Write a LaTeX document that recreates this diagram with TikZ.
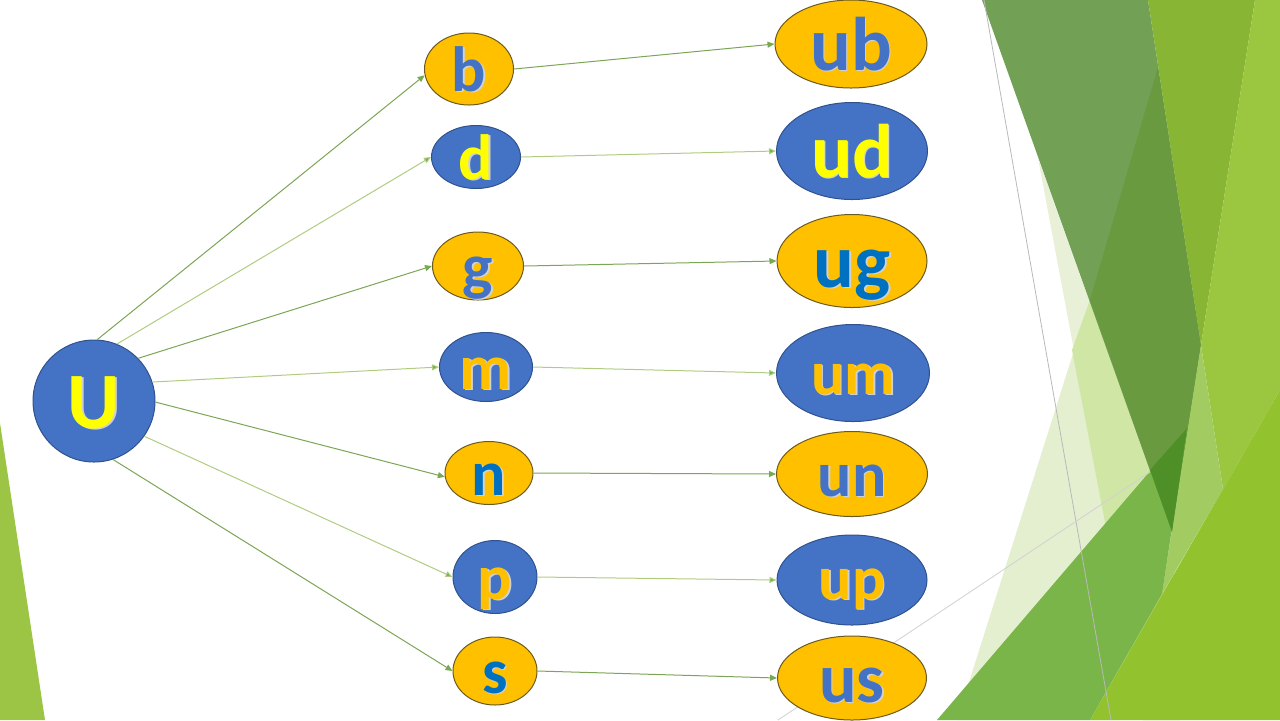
\documentclass[tikz,border=0pt]{standalone}
\usepackage{fontspec}
\setmainfont{Carlito}
\usetikzlibrary{shapes.geometric,arrows.meta}

\definecolor{ublue}{HTML}{4472C4}
\definecolor{deepblue}{HTML}{0070C0}
\definecolor{uorange}{HTML}{FFC000}
\definecolor{uyellow}{HTML}{FFFF00}
\definecolor{blueline}{HTML}{2F528F}
\definecolor{orangeline}{HTML}{6B5A1E}
\definecolor{arrowdark}{HTML}{7DA556}
\definecolor{arrowpale}{HTML}{B0CC80}
% facet greens
\definecolor{paleA}{HTML}{E3EFCF}
\definecolor{paleB}{HTML}{E8F1D7}
\definecolor{paleC}{HTML}{D0E6A5}
\definecolor{darkA}{HTML}{72A055}
\definecolor{darkB}{HTML}{6A9A40}
\definecolor{darkC}{HTML}{4E8F28}
\definecolor{midA}{HTML}{88B534}
\definecolor{midB}{HTML}{7AB54A}
\definecolor{brightA}{HTML}{9BC63F}
\definecolor{brightB}{HTML}{93C22F}
\definecolor{lightA}{HTML}{A2CB62}
\definecolor{edgegreen}{HTML}{9DC545}

% letter with a soft drop shadow
\newcommand\txtshadow[2]{\makebox[0pt][l]{\kern0.8pt\raisebox{-0.8pt}{\textcolor{black!18}{#2}}}\textcolor{#1}{#2}}

\begin{document}
\begin{tikzpicture}[x=0.5pt,y=-0.5pt,
  orangebox/.style={ellipse,fill=uorange,draw=orangeline,line width=0.5pt,inner sep=0pt},
  bluebox/.style={ellipse,fill=ublue,draw=blueline,line width=0.5pt,inner sep=0pt},
  letter/.style={font=\fontsize{32}{32}\selectfont\bfseries,text height=22pt,text depth=0pt},
  link/.style={draw=arrowdark,line width=0.5pt,-{Triangle[length=3.5pt,width=3pt,fill=arrowdark!80!green]}},
  linkpale/.style={link,draw=arrowpale}]
\useasboundingbox (0,0) rectangle (1280,720);

% Background facets - right side
\fill[paleA] (1090,300) -- (1172,532) -- (1120,720) -- (957,720) -- cycle;
\fill[paleB] (1038,158) -- (1172,532) -- (1180,720) -- (1143,720) -- cycle;
\fill[paleC] (1090,300) -- (1072,350) -- (1143,720) -- (1180,720) -- (1172,532) -- cycle;
\fill[darkA] (982,0) -- (1148,0) -- (1201,345) -- (1172,532) -- cycle;
\fill[darkB] (1158,67) -- (1201,345) -- (1172,532) -- (1090,300) -- cycle;
\fill[midA] (1148,0) -- (1255,0) -- (1201,345) -- cycle;
\fill[brightA] (1255,0) -- (1280,0) -- (1280,390) -- (1223,489) -- (1201,345) -- cycle;
\fill[lightA] (1201,345) -- (1223,489) -- (1162,594) -- cycle;
\fill[midB] (937,720) -- (1187,428) -- (1162,594) -- (1090,720) -- cycle;
\fill[darkC] (1150,470) -- (1187,428) -- (1172,532) -- cycle;
\fill[brightB] (1090,720) -- (1280,390) -- (1280,720) -- cycle;
\draw[gray!55,line width=0.4pt] (984,0) -- (1111,720);
\draw[gray!35,line width=0.4pt] (778,720) -- (1150,472);

% Background facet - left edge
\fill[edgegreen] (0,423) -- (45,720) -- (0,720) -- cycle;

% Start letter
\node[circle,fill=ublue,draw=blueline,line width=0.5pt,inner sep=0pt,minimum size=61pt,
  font=\fontsize{40}{40}\selectfont\bfseries,text height=27pt,text depth=0pt] (U) at (94,401) {\txtshadow{uyellow}{U}};

% Second letters
\node[orangebox,minimum width=44.5pt,minimum height=36pt,letter] (b) at (469,69) {\txtshadow{ublue}{b}};
\node[bluebox,minimum width=44.5pt,minimum height=31.5pt,letter] (d) at (476,157) {\txtshadow{uyellow}{d}};
\node[orangebox,minimum width=45.5pt,minimum height=34pt,letter] (g) at (478,266) {\txtshadow{ublue}{g}};
\node[bluebox,minimum width=46.5pt,minimum height=34.5pt,letter] (m) at (486,367) {\txtshadow{uorange}{m}};
\node[orangebox,minimum width=44pt,minimum height=31.5pt,letter] (n) at (489,473) {\txtshadow{deepblue}{n}};
\node[bluebox,minimum width=42pt,minimum height=36.5pt,letter] (p) at (495,577) {\txtshadow{uorange}{p}};
\node[orangebox,minimum width=42pt,minimum height=34pt,letter] (s) at (495,671) {\txtshadow{deepblue}{s}};

% Words
\node[orangebox,minimum width=76pt,minimum height=44pt,font=\fontsize{38}{38}\selectfont\bfseries,text height=26pt,text depth=0pt] (ub) at (851,44) {\txtshadow{ublue}{ub}};
\node[bluebox,minimum width=75.5pt,minimum height=48.5pt,font=\fontsize{38}{38}\selectfont\bfseries,text height=26pt,text depth=0pt] (ud) at (852,151) {\txtshadow{uyellow}{ud}};
\node[orangebox,minimum width=75pt,minimum height=46.5pt,font=\fontsize{38}{38}\selectfont\bfseries,text height=26pt,text depth=0pt] (ug) at (852,261) {\txtshadow{deepblue}{ug}};
\node[bluebox,minimum width=76.5pt,minimum height=48.5pt,font=\fontsize{31}{31}\selectfont\bfseries,text height=21pt,text depth=0pt] (um) at (853,373) {\txtshadow{uorange}{um}};
\node[orangebox,minimum width=75.5pt,minimum height=42.5pt,font=\fontsize{32}{32}\selectfont\bfseries,text height=22pt,text depth=0pt] (un) at (852,474) {\txtshadow{ublue}{un}};
\node[bluebox,minimum width=75pt,minimum height=45pt,font=\fontsize{31}{31}\selectfont\bfseries,text height=19pt,text depth=0pt] (up) at (852,580) {\txtshadow{uorange}{up}};
\node[orangebox,minimum width=74.5pt,minimum height=42pt,font=\fontsize{35}{35}\selectfont\bfseries,text height=24pt,text depth=0pt] (us) at (852,678) {\txtshadow{ublue}{us}};

% U to second letters
\draw[link] (U.87) -- (b.188);
\draw[linkpale] (U.68) -- (d.west);
\draw[link] (U.44) -- (g.west);
\draw[linkpale] (U.18) -- (m.west);
\draw[link] (U.-1) -- (n.185);
\draw[linkpale] (U.-35) -- (p.west);
\draw[link] (U.-72) -- (s.west);

% second letters to words
\draw[link] (b.east) -- (ub.west);
\draw[linkpale] (d.east) -- (ud.west);
\draw[link] (g.east) -- (ug.west);
\draw[linkpale] (m.east) -- (um.west);
\draw[link] (n.east) -- (un.west);
\draw[linkpale] (p.east) -- (up.west);
\draw[link] (s.east) -- (us.west);

\end{tikzpicture}
\end{document}
